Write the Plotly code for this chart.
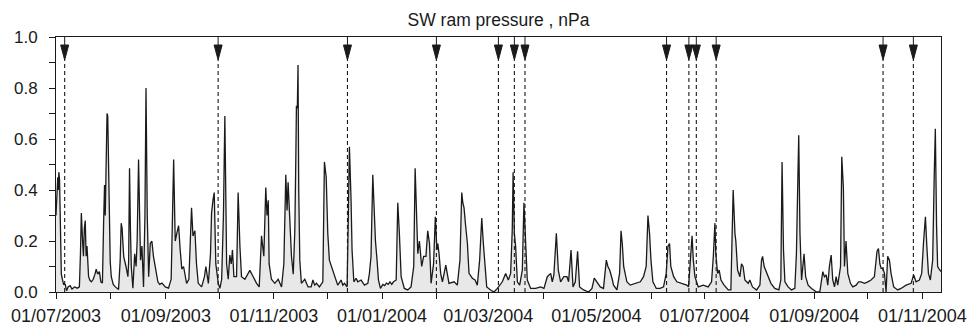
import pandas as pd
import plotly.graph_objects as go

START = "2003-07-01"

# day offsets from 01/07/2003 and SW ram pressure values (nPa)
day_offset = [
    0, 0.6, 1.0, 1.3, 1.6, 2.0, 2.4, 3.0, 3.6, 4.3, 5.2, 6.0, 6.8, 8, 9, 10.5, 12, 13.2,
    13.8, 14.3, 15.0, 15.5, 16.0, 16.5, 17.0, 17.5, 18.4, 19.2, 20, 21, 22, 22.7, 23.5, 24.5,
    25.3, 26.2, 26.9, 27.4, 27.8, 28.3, 28.8, 29.2, 30, 30.6, 31.2, 32.3, 33.5, 35.3, 36.2,
    36.8, 37.3, 37.6, 38.2, 39.5, 40.6, 41.0, 41.5, 42, 42.5, 43.4, 44.4, 45.2, 45.8, 46.6,
    47.1, 47.7, 48.5, 49.4, 50.2, 50.8, 51.5, 52.3, 53.2, 54.1, 55, 56, 57.5, 58.5, 59.8,
    61.7, 63.5, 65.0, 65.7, 66.4, 67.0, 67.3, 68.2, 69.2, 70.1, 71, 72, 73.7, 75, 75.8, 76.5,
    77.3, 78.4, 79.3, 80.3, 82.2, 83.8, 84.6, 86, 87.2, 87.8, 88.6, 89.3, 90.2, 91.6, 92.5,
    93.5, 94.5, 95.3, 95.8, 96.3, 97.2, 98.1, 98.9, 99.6, 100.4, 101.9, 102.3, 102.8, 103.8,
    104.7, 106.6, 108, 109.4, 111.3, 113.2, 114.7, 116, 117.3, 118.4, 119.1, 119.8, 120.3,
    121.6, 123.5, 125.4, 127.3, 128.6, 129.7, 130.4, 131, 132, 132.9, 133.9, 134.8, 135.4,
    135.7, 136.2, 136.6, 137.0, 137.6, 138.5, 140.4, 142.3, 144, 145, 146, 147, 148.7, 150.6,
    151.5, 152.5, 153.4, 154.3, 155.3, 156.2, 157.2, 159, 160.9, 161.9, 162.8, 164.3, 165.0,
    165.6, 166.5, 167.1, 168.1, 169.4, 170.3, 172.2, 174.1, 176, 176.9, 177.8, 178.8, 179.7,
    180.3, 181.2, 182, 183.1, 184.5, 185.5, 186.5, 187.5, 188.5, 189.5, 190.5, 192, 192.9,
    193.8, 194.8, 196.6, 198.5, 200.4, 201.9, 202.7, 203.6, 204.2, 205.1, 206.4, 207.5, 208.8,
    209.8, 210.8, 211.7, 213.1, 214.1, 215.0, 215.5, 216.2, 217.1, 218.1, 220, 220.9, 221.8,
    224.7, 226.5, 228, 229, 229.6, 230.3, 231.2, 232.2, 233.1, 235, 236.5, 237.8, 239.1,
    240.3, 241.2, 242.2, 243.1, 245.3, 247.2, 249.1, 251.9, 253.8, 255.3, 256.6, 257.5, 258,
    258.7, 259.4, 260.4, 261.7, 263.2, 264.1, 265.1, 266, 267.9, 270.7, 273.5, 275.4, 277.3,
    279.2, 280.1, 281, 282.4, 283.5, 284.8, 286.6, 288.4, 289.3, 290.7, 291.8, 293.1, 294.4,
    295.5, 297.8, 300.6, 302.5, 303.8, 305.3, 307.2, 309, 310.6, 311.5, 312.5, 313.8, 314.7,
    316.6, 318.1, 318.9, 319.6, 320.4, 322.2, 324.1, 327, 329.8, 331.6, 333.1, 334.1, 335.0,
    335.8, 336.9, 338.8, 341, 342.9, 344.4, 345.4, 346.3, 347, 348.6, 350.4, 353.2, 356, 357,
    358.3, 359.0, 359.7, 360.6, 362.5, 365.3, 368.1, 370, 371, 371.9, 372.4, 373.4, 374.3,
    375.3, 377.1, 379.4, 380.9, 381.5, 382.2, 383.2, 383.7, 384.7, 386, 386.9, 387.8, 388.8,
    390.7, 391.6, 393.1, 395.4, 397.3, 398.2, 398.8, 399.7, 400.5, 401.6, 403.5, 405.7, 408,
    409.1, 409.8, 410.6, 411.4, 413.2, 415.1, 417, 417.9, 418.5, 419.2, 419.9, 420.8, 422.2,
    423.1, 424.5, 426.4, 429.2, 431.1, 432.8, 433.7, 434.7, 435.6, 436.5, 437.5, 438.4, 439.4,
    440.3, 441.2, 442.8, 443.5, 444.4, 445, 445.9, 446.9, 448.4, 449.7, 451.6, 453, 454.4,
    456.3, 458.2, 460, 461.9, 463.4, 464.2, 465, 465.7, 466.6, 467.6, 468.5, 469.4, 470.4,
    471.3, 472.8, 475.1, 476.9, 479.8, 482.6, 484.1, 485.4, 487.3, 488.6, 489.7, 490.7, 491.5,
    492.4, 493.5, 494.8, 495.7, 496.3, 497.0, 497.6, 498.5, 499.5,
]
pressure = [
    0.30, 0.42, 0.45, 0.40, 0.47, 0.44, 0.25, 0.07, 0.05, 0.03, 0.03, 0.005, 0.02, 0.025, 0.012, 0.02, 0.015, 0.02,
    0.15, 0.31, 0.20, 0.14, 0.25, 0.28, 0.14, 0.18, 0.06, 0.045, 0.04, 0.05, 0.07, 0.09, 0.07, 0.08,
    0.04, 0.035, 0.28, 0.42, 0.30, 0.50, 0.70, 0.69, 0.26, 0.12, 0.06, 0.03, 0.02, 0.01, 0.12,
    0.27, 0.25, 0.20, 0.14, 0.10, 0.06, 0.12, 0.485, 0.25, 0.10, 0.015, 0.15, 0.10, 0.20, 0.52,
    0.23, 0.125, 0.18, 0.02, 0.30, 0.80, 0.30, 0.06, 0.19, 0.20, 0.14, 0.10, 0.04, 0.03, 0.035,
    0.02, 0.015, 0.05, 0.30, 0.52, 0.30, 0.20, 0.23, 0.26, 0.165, 0.09, 0.10, 0.034, 0.05, 0.25, 0.33,
    0.22, 0.24, 0.11, 0.034, 0.02, 0.06, 0.10, 0.034, 0.15, 0.31, 0.36, 0.39, 0.11, 0.034, 0.014,
    0.05, 0.30, 0.69, 0.40, 0.11, 0.05, 0.145, 0.11, 0.165, 0.06, 0.06, 0.20, 0.39, 0.18,
    0.06, 0.05, 0.07, 0.085, 0.06, 0.034, 0.02, 0.22, 0.14, 0.41, 0.30, 0.36, 0.11,
    0.05, 0.034, 0.05, 0.02, 0.11, 0.46, 0.32, 0.43, 0.30, 0.14, 0.07, 0.24, 0.55,
    0.73, 0.72, 0.89, 0.40, 0.125, 0.034, 0.05, 0.02, 0.02, 0.047, 0.027, 0.034, 0.02, 0.04,
    0.51, 0.45, 0.23, 0.125, 0.105, 0.086, 0.06, 0.027, 0.047, 0.027, 0.034, 0.02, 0.30,
    0.57, 0.37, 0.165, 0.04, 0.054, 0.04, 0.047, 0.027, 0.034, 0.073, 0.14, 0.46, 0.31,
    0.20, 0.125, 0.047, 0.014, 0.03, 0.025, 0.035, 0.03, 0.04, 0.03, 0.04, 0.047, 0.35,
    0.23, 0.06, 0.014, 0.008, 0.02, 0.10, 0.485, 0.32, 0.15, 0.20, 0.10, 0.14, 0.14,
    0.24, 0.19, 0.034, 0.11, 0.295, 0.165, 0.19, 0.15, 0.073, 0.04, 0.105, 0.06, 0.034,
    0.04, 0.027, 0.125, 0.39, 0.35, 0.33, 0.26, 0.19, 0.073, 0.054, 0.047, 0.027, 0.125,
    0.29, 0.19, 0.10, 0.02, 0.008, 0.0, 0.014, 0.04, 0.073, 0.047, 0.073, 0.24, 0.47,
    0.23, 0.18, 0.04, 0.027, 0.086, 0.35, 0.20, 0.047, 0.014, 0.014, 0.02, 0.014, 0.06,
    0.073, 0.04, 0.067, 0.23, 0.086, 0.04, 0.06, 0.06, 0.04, 0.165, 0.02, 0.04, 0.16,
    0.02, 0.008, 0.0, 0.014, 0.054, 0.04, 0.02, 0.014, 0.125, 0.10, 0.086, 0.054, 0.027,
    0.008, 0.073, 0.24, 0.19, 0.10, 0.04, 0.027, 0.034, 0.04, 0.06, 0.10, 0.30, 0.23,
    0.125, 0.04, 0.014, 0.014, 0.02, 0.073, 0.18, 0.19, 0.10, 0.06, 0.04, 0.034, 0.027, 0.02,
    0.15, 0.22, 0.125, 0.06, 0.02, 0.027, 0.02, 0.04, 0.14, 0.27, 0.15, 0.073, 0.086,
    0.047, 0.027, 0.008, 0.008, 0.20, 0.40, 0.23, 0.20, 0.086, 0.06, 0.11, 0.10, 0.047,
    0.034, 0.047, 0.02, 0.008, 0.027, 0.125, 0.14, 0.10, 0.086, 0.06, 0.034, 0.014, 0.008,
    0.047, 0.51, 0.165, 0.04, 0.02, 0.008, 0.014, 0.15, 0.37, 0.615, 0.23, 0.047, 0.15,
    0.06, 0.027, 0.014, 0.0, 0.0, 0.08, 0.06, 0.067, 0.027, 0.10, 0.145, 0.047, 0.02,
    0.06, 0.027, 0.10, 0.53, 0.41, 0.10, 0.20, 0.073, 0.034, 0.02, 0.027, 0.04, 0.04,
    0.034, 0.04, 0.047, 0.06, 0.16, 0.17, 0.11, 0.093, 0.093, 0.073, 0.0, 0.14, 0.125,
    0.073, 0.02, 0.008, 0.014, 0.027, 0.034, 0.067, 0.04, 0.047, 0.073, 0.20, 0.295, 0.18,
    0.073, 0.047, 0.125, 0.465, 0.64, 0.26, 0.10, 0.09, 0.08,
]

# event markers (arrows), day offsets from 01/07/2003
arrow_days = [4.9, 91.5, 164.5, 214.7, 249.7, 258.7, 264.7, 344.6, 357.2, 361.4, 372.6, 466.8, 483.9]

y_ticks = [0.0, 0.2, 0.4, 0.6, 0.8, 1.0]
y_ticktext = ["0.0", "0.2", "0.4", "0.6", "0.8", "1.0"]
title_text = "SW ram pressure , nPa"

start = pd.Timestamp(START)
dates = [start + pd.Timedelta(days=d) for d in day_offset]
arrow_dates = [(start + pd.Timedelta(days=d)).strftime("%Y-%m-%d %H:%M:%S") for d in arrow_days]

fig = go.Figure()
fig.add_trace(go.Scatter(
    x=dates, y=pressure, mode="lines",
    line=dict(color="#1a1a1a", width=1.3),
    fill="tozeroy", fillcolor="#e8e8e8",
    hoverinfo="skip", showlegend=False,
))

shapes = []
for ad in arrow_dates:
    shapes.append(dict(
        type="line", xref="x", yref="y", x0=ad, x1=ad, y0=0, y1=0.91,
        line=dict(color="#1a1a1a", width=1.1, dash="4px,3px"), layer="above",
    ))
    shapes.append(dict(
        type="path", xref="x", yref="y",
        xsizemode="pixel", ysizemode="pixel", xanchor=ad, yanchor=1.0,
        path="M0,0 V-8 M-4,-8 H4 L0,-23 Z",
        fillcolor="#1a1a1a", line=dict(color="#1a1a1a", width=1), layer="above",
    ))

family = "Liberation Sans, Arial, sans-serif"
tcolor = "#1a1a1a"

fig.update_layout(
    width=969, height=326,
    margin=dict(l=56, r=28, t=37, b=34, autoexpand=False),
    paper_bgcolor="white", plot_bgcolor="white",
    font=dict(family=family, size=16, color=tcolor),
    shapes=shapes,
    title=dict(text=title_text, x=0.5, xref="paper", xanchor="center",
               y=1 - 20 / 326, yref="container", yanchor="middle",
               font=dict(family=family, size=17.5, color=tcolor)),
    showlegend=False,
)
fig.update_xaxes(
    type="date", automargin=False,
    range=[START, (start + pd.Timedelta(days=499.5)).strftime("%Y-%m-%d %H:%M:%S")],
    tick0=START, dtick="M2", tickformat="%d/%m/%Y",
    tickfont=dict(family=family, size=18, color=tcolor),
    ticks="outside", ticklen=6, tickwidth=1, tickcolor=tcolor,
    minor=dict(dtick="M1", tick0=START, ticks="outside", ticklen=6, tickwidth=1, tickcolor=tcolor, showgrid=False),
    showline=True, linecolor=tcolor, linewidth=1, mirror=True,
    showgrid=False, zeroline=False, ticklabelstandoff=1,
)
fig.update_yaxes(
    range=[0, 1.0], tickvals=y_ticks, ticktext=y_ticktext, automargin=False,
    tickfont=dict(family=family, size=17, color=tcolor),
    ticks="outside", ticklen=6, tickwidth=1, tickcolor=tcolor,
    minor=dict(dtick=0.1, tick0=0, ticks="outside", ticklen=6, tickwidth=1, tickcolor=tcolor, showgrid=False),
    showline=True, linecolor=tcolor, linewidth=1, mirror=True,
    showgrid=False, zeroline=False, ticklabelstandoff=8,
)

fig.write_html(
    "out.html",
    config={"displayModeBar": False},
    post_script="document.body.style.margin='0';document.body.style.overflow='hidden';",
)
